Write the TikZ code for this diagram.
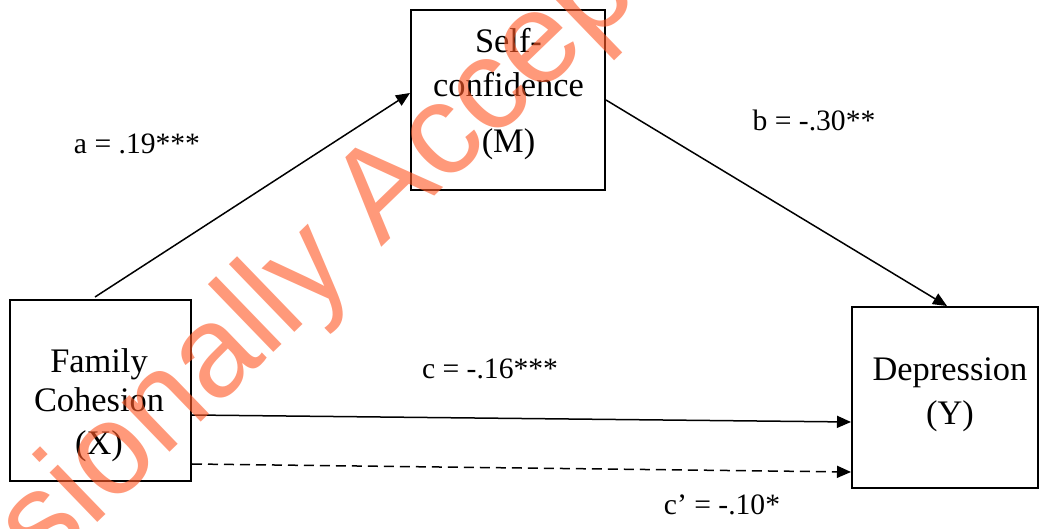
\documentclass[tikz,border=0pt]{standalone}
\usepackage{fontspec}
\setmainfont{Liberation Serif}
\newfontfamily\wmfont{Liberation Sans}
\usetikzlibrary{arrows.meta,calc}
\definecolor{wmcol}{RGB}{255,90,40}
\begin{document}
\begin{tikzpicture}[x=0.5pt,y=-0.5pt,
  box/.style={draw,line width=1pt,rectangle,inner sep=0pt},
  boxtext/.style={anchor=base,inner sep=0pt,font=\fontsize{17.2}{20}\selectfont},
  lab/.style={anchor=base,inner sep=0pt,font=\fontsize{14.8}{18}\selectfont},
  arr/.style={line width=0.75pt,-{Triangle[length=7pt,width=6pt]}}]
\useasboundingbox (0,0) rectangle (1040,529);
% boxes
\node[box,minimum width=97pt,minimum height=90pt] (m) at (508,100) {};
\node[box,minimum width=90.5pt,minimum height=90.5pt] (x) at (100.5,390.5) {};
\node[box,minimum width=93pt,minimum height=90.5pt] (y) at (945,397.5) {};
% box texts
\node[boxtext] (m1) at (508.5,53) {Self-};
\node[boxtext] (m2) at (508.5,97) {confidence};
\node[boxtext] (m3) at (508.5,153) {(M)};
\node[boxtext] (x1) at (99,373) {Family};
\node[boxtext] (x2) at (99,412) {Cohesion};
\node[boxtext] (x3) at (99,455) {(X)};
\node[boxtext] (y1) at (950,381) {Depression};
\node[boxtext] (y2) at (950,425) {(Y)};
% connectors
\coordinate (a0) at (95,297);
\draw[arr] (a0) -- ($(m.west)+(0,-7)$);
\draw[arr] (m.east) -- ($(y.north)+(2,0)$);
\draw[arr] ($(x.east)+(0,24.5)$) -- ($(y.west)+(0,24.5)$);
\draw[arr,dashed,dash pattern=on 5pt off 3pt] ($(x.east)+(0,73.5)$) -- ($(y.west)+(0,74.5)$);
% labels
\node[lab] (la) at (137,154) {a = .19***};
\node[lab] (lb) at (814,131) {b = -.30**};
\node[lab] (lc) at (490,379) {c = -.16***};
\node[lab] (lcp) at (722,515) {c’ = -.10*};
% watermark
\node[rotate=44,anchor=base west,inner sep=0pt,text=wmcol,text opacity=0.62,
  font=\wmfont\fontsize{65}{65}\selectfont] (wm) at (-169,780) {Provisionally Accepted};
\end{tikzpicture}
\end{document}
